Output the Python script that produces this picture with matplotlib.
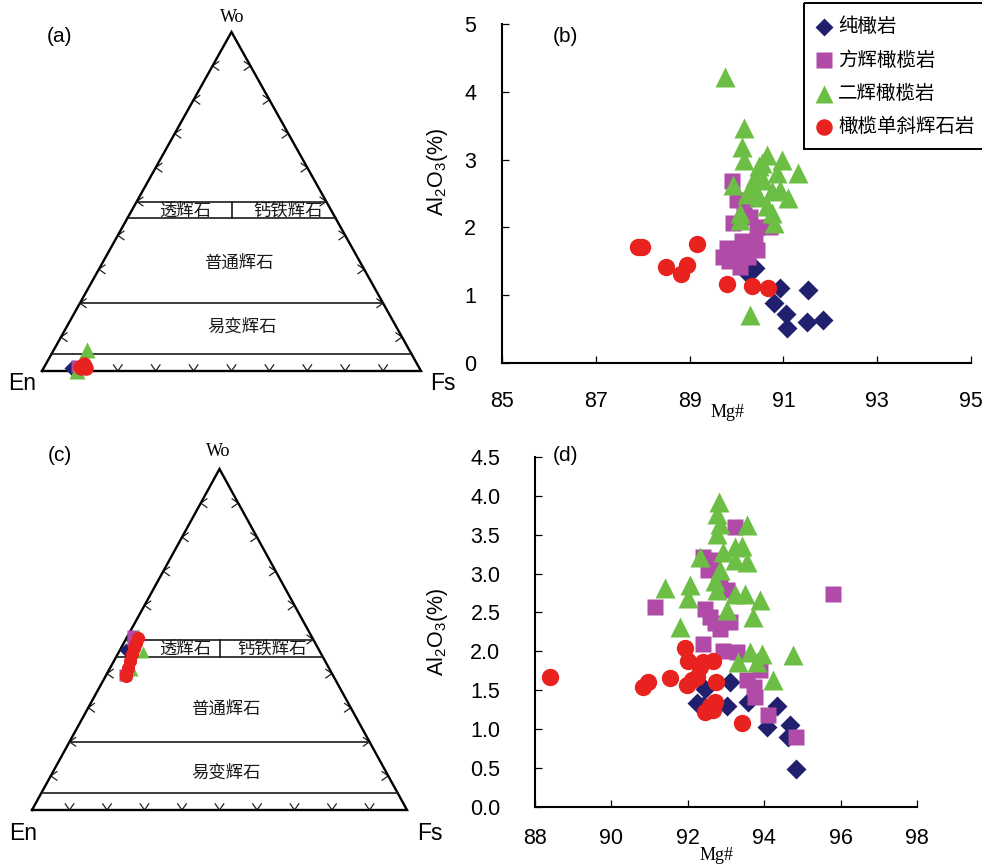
import matplotlib
matplotlib.use('Agg')
import matplotlib.pyplot as plt
from matplotlib.patches import Rectangle
import numpy as np

W, H = 982, 868
plt.rcParams['font.family'] = ['Liberation Sans', 'Noto Sans CJK SC', 'DejaVu Sans']
plt.rcParams['mathtext.fontset'] = 'custom'
plt.rcParams['mathtext.rm'] = 'Liberation Sans'
plt.rcParams['mathtext.it'] = 'Liberation Sans:italic'

# ---------------- data ----------------
series = ['纯橄岩', '方辉橄榄岩', '二辉橄榄岩', '橄榄单斜辉石岩']
colors = ['#20206f', '#b04ca8', '#6cbe45', '#e8221e']
markers = ['D', 's', '^', 'o']
msizes = [10.0, 12.0, 14.0, 12.5]

# panel (b): Mg# vs Al2O3
b_dun_mg = [90.39, 90.25, 90.93, 90.79, 91.06, 91.07, 91.53, 91.50, 91.85]
b_dun_al = [1.40, 1.32, 1.10, 0.88, 0.73, 0.51, 1.08, 0.61, 0.64]
b_harz_mg = [89.90, 90.00, 89.92, 90.29, 90.43, 90.72, 90.39, 89.79, 89.72, 90.00,
             90.25, 90.07, 90.22, 90.43, 90.12, 90.00, 89.85, 90.15]
b_harz_al = [2.68, 2.40, 2.06, 2.16, 2.01, 2.00, 1.79, 1.69, 1.57, 1.52,
             1.57, 1.42, 1.74, 1.67, 1.80, 1.65, 1.50, 2.30]
b_lherz_mg = [89.75, 90.15, 90.11, 90.15, 89.93, 90.47, 90.66, 90.96, 91.32, 90.86,
              90.57, 90.32, 90.22, 90.47, 90.75, 90.93, 91.10, 90.64, 90.79, 90.75,
              90.07, 90.07, 90.29, 90.55, 90.40]
b_lherz_al = [4.22, 3.46, 3.19, 2.99, 2.63, 2.90, 3.07, 2.99, 2.80, 2.80,
              2.70, 2.60, 2.50, 2.45, 2.53, 2.55, 2.43, 2.31, 2.06, 2.21,
              2.11, 2.21, 0.71, 2.95, 2.75]
b_wcpx_mg = [87.89, 87.99, 88.50, 88.81, 88.95, 89.16, 89.79, 90.33, 90.67]
b_wcpx_al = [1.71, 1.71, 1.42, 1.32, 1.44, 1.76, 1.17, 1.14, 1.10]

# panel (d): Mg# vs Al2O3
d_dun_mg = [92.45, 93.10, 92.23, 93.02, 93.58, 94.33, 94.07, 94.68, 94.63, 94.82, 92.41]
d_dun_al = [1.52, 1.61, 1.33, 1.29, 1.35, 1.29, 1.03, 1.05, 0.90, 0.49, 1.29]
d_harz_mg = [91.14, 95.81, 93.24, 92.41, 92.54, 92.67, 92.84, 93.02, 92.45, 92.58,
             92.71, 93.10, 92.84, 92.41, 92.93, 93.28, 93.54, 93.72, 93.76, 93.89,
             94.11, 94.83]
d_harz_al = [2.57, 2.74, 3.60, 3.21, 3.04, 3.17, 2.87, 2.79, 2.55, 2.44,
             2.36, 2.38, 2.29, 2.10, 2.01, 1.99, 1.63, 1.54, 1.41, 1.76,
             1.18, 0.90]
d_lherz_mg = [92.82, 92.76, 92.84, 92.76, 93.54, 92.32, 92.93, 93.24, 93.41, 93.54,
              93.24, 92.84, 92.71, 92.76, 91.40, 92.06, 92.01, 93.24, 93.50, 93.89,
              93.02, 93.71, 91.80, 93.62, 93.93, 93.32, 93.80, 94.76, 94.24]
d_lherz_al = [3.92, 3.77, 3.64, 3.51, 3.62, 3.21, 3.28, 3.34, 3.36, 3.15,
              3.17, 3.04, 2.91, 2.79, 2.81, 2.85, 2.68, 2.74, 2.74, 2.66,
              2.53, 2.44, 2.31, 1.99, 1.97, 1.86, 1.86, 1.95, 1.63]
d_wcpx_mg = [88.40, 90.83, 90.95, 91.53, 91.93, 92.01, 91.97, 92.12, 92.23, 92.32,
             92.39, 92.67, 92.74, 92.71, 92.58, 92.45, 92.67, 93.41]
d_wcpx_al = [1.67, 1.54, 1.61, 1.65, 2.04, 1.88, 1.56, 1.63, 1.67, 1.80,
             1.86, 1.87, 1.61, 1.35, 1.29, 1.22, 1.24, 1.08]

# panel (a): ternary Wo / Fs fractions
a_dun_wo = [0.008, 0.010]
a_dun_fs = [0.074, 0.080]
a_harz_wo = [0.015]
a_harz_fs = [0.085]
a_lherz_wo = [0.062, 0.000, 0.020]
a_lherz_fs = [0.087, 0.092, 0.095]
a_wcpx_wo = [0.013, 0.015, 0.010, 0.020, 0.008]
a_wcpx_fs = [0.095, 0.105, 0.112, 0.100, 0.100]

# panel (c): ternary Wo / Fs fractions
c_dun_wo = [0.469]
c_dun_fs = [0.016]
c_harz_wo = [0.510, 0.500, 0.396]
c_harz_fs = [0.014, 0.020, 0.050]
c_lherz_wo = [0.513, 0.463, 0.410]
c_lherz_fs = [0.026, 0.065, 0.062]
c_wcpx_wo = [0.393, 0.400, 0.416, 0.437, 0.457, 0.475, 0.490, 0.504]
c_wcpx_fs = [0.054, 0.050, 0.048, 0.043, 0.038, 0.034, 0.032, 0.031]

b_x_ticks = [85, 87, 89, 91, 93, 95]
b_y_ticks = [0, 1, 2, 3, 4, 5]
d_x_ticks = [88, 90, 92, 94, 96, 98]
d_y_ticks = [0.0, 0.5, 1.0, 1.5, 2.0, 2.5, 3.0, 3.5, 4.0, 4.5]

field_names = ['透辉石', '钙铁辉石', '普通辉石', '易变辉石']
field_lines_wo = [0.50, 0.45, 0.20, 0.05]
tern_ticks = [0.1, 0.2, 0.3, 0.4, 0.5, 0.6, 0.7, 0.8, 0.9]

# ---------------- figure ----------------
fig = plt.figure(figsize=(W / 100, H / 100), dpi=100)
fig.patch.set_facecolor('white')


def px_rect(x0, y_top, x1, y_bot):
    return [x0 / W, 1 - y_bot / H, (x1 - x0) / W, (y_bot - y_top) / H]


def ftext(x, y, s, **kw):
    kw.setdefault('ha', 'center')
    kw.setdefault('va', 'center')
    fig.text(x / W, 1 - y / H, s, **kw)


def ternary(rect, wo_lists, fs_lists, msz, label_pos):
    ax = fig.add_axes(rect)
    ax.set_xlim(0, 1)
    ax.set_ylim(0, 1)
    ax.axis('off')
    sx = rect[2] * W
    sy = rect[3] * H
    ax.plot([0, 1, 0.5, 0], [0, 0, 1, 0], color='black', lw=1.7,
            solid_joinstyle='miter', clip_on=False, zorder=2)
    for w in field_lines_wo:
        ax.plot([w / 2, 1 - w / 2], [w, w], color='#1a1a1a', lw=1.2, zorder=2)
    ax.plot([0.5, 0.5], [0.45, 0.50], color='#1a1a1a', lw=1.2, zorder=2)
    L = 7.5
    ang = np.deg2rad(35)

    def chevron(px, py, base_angle):
        for s in (-1, 1):
            a = base_angle + s * ang
            ax.plot([px, px + L * np.cos(a) / sx], [py, py + L * np.sin(a) / sy],
                    color='#222222', lw=0.9, zorder=1)
    for t in tern_ticks:
        chevron(t / 2, t, 0.0)
        chevron(1 - t / 2, t, np.pi)
        chevron(t, 0.0, np.pi / 2)
    for i in range(4):
        wo = np.array(wo_lists[i])
        fs = np.array(fs_lists[i])
        ax.plot(fs + wo / 2, wo, linestyle='none', marker=markers[i], ms=msz[i],
                color=colors[i], mec='none', clip_on=False, zorder=3 + i)
    for name, (x, y) in zip(field_names, label_pos):
        ftext(x, y, name, fontsize=12.5, family=['Noto Sans CJK SC'], color='#1a1a1a')
    return ax


ternary(px_rect(42, 32, 421, 371),
        [a_dun_wo, a_harz_wo, a_lherz_wo, a_wcpx_wo],
        [a_dun_fs, a_harz_fs, a_lherz_fs, a_wcpx_fs], [8.0, 9.0, 11.0, 10.5],
        [(185, 211), (288, 211), (239, 263), (242, 327)])
ternary(px_rect(32, 469, 407, 810),
        [c_dun_wo, c_harz_wo, c_lherz_wo, c_wcpx_wo],
        [c_dun_fs, c_harz_fs, c_lherz_fs, c_wcpx_fs], [7.5, 9.0, 9.0, 9.5],
        [(185, 649), (272, 649), (226, 709), (226, 773)])

serif = ['Liberation Serif', 'DejaVu Serif']
ftext(60, 37, '(a)', fontsize=15)
ftext(232, 18, 'Wo', fontsize=13, family=serif)
ftext(22, 383, 'En', fontsize=16.5)
ftext(443, 383, 'Fs', fontsize=16.5)
ftext(60, 456, '(c)', fontsize=15)
ftext(218, 452, 'Wo', fontsize=13, family=serif)
ftext(23, 833, 'En', fontsize=16.5)
ftext(430, 833, 'Fs', fontsize=16.5)


def scatter_panel(rect, xs, ys, xlim, ylim, xt, yt, yfmt, xpad, ypad, msz):
    ax = fig.add_axes(rect)
    ax.patch.set_alpha(0)
    for i in range(4):
        ax.plot(xs[i], ys[i], linestyle='none', marker=markers[i], ms=msz[i],
                color=colors[i], mec='none', clip_on=False, zorder=3 + i)
    ax.set_xlim(*xlim)
    ax.set_ylim(*ylim)
    ax.set_xticks(xt)
    ax.set_yticks(yt)
    ax.set_xticklabels([str(v) for v in xt])
    ax.set_yticklabels([yfmt.format(v) for v in yt])
    for s in ('top', 'right'):
        ax.spines[s].set_visible(False)
    for s in ('left', 'bottom'):
        ax.spines[s].set_linewidth(1.5)
    ax.tick_params(axis='both', direction='in', length=5, width=0.9,
                   labelsize=15.5)
    ax.tick_params(axis='x', pad=xpad)
    ax.tick_params(axis='y', pad=ypad)
    return ax


scatter_panel(px_rect(502, 24, 971, 363),
              [b_dun_mg, b_harz_mg, b_lherz_mg, b_wcpx_mg],
              [b_dun_al, b_harz_al, b_lherz_al, b_wcpx_al],
              (85, 95), (0, 5), b_x_ticks, b_y_ticks, '{:g}', 20, 18.5, msizes)
scatter_panel(px_rect(535, 457, 917, 806.7),
              [d_dun_mg, d_harz_mg, d_lherz_mg, d_wcpx_mg],
              [d_dun_al, d_harz_al, d_lherz_al, d_wcpx_al],
              (88, 98), (0, 4.5), d_x_ticks, d_y_ticks, '{:.1f}', 15, 25, msizes)

ftext(565, 37, '(b)', fontsize=15)
ftext(565, 456, '(d)', fontsize=15)
ftext(728, 412, 'Mg#', fontsize=13, family=serif)
ftext(717, 856, 'Mg#', fontsize=13, family=serif)
ftext(438, 172, r'Al$_2$O$_3$(%)', fontsize=15.5, rotation=90)
ftext(438, 632, r'Al$_2$O$_3$(%)', fontsize=15.5, rotation=90)

# legend
lg = fig.add_axes([0, 0, 1, 1])
lg.set_xlim(0, W)
lg.set_ylim(H, 0)
lg.axis('off')
lg.patch.set_alpha(0)
lg.add_patch(Rectangle((804, 3), 200, 146, fill=False, ec='black', lw=1.4,
                       clip_on=False))
for i, name in enumerate(series):
    yy = 27 + i * 33.3
    lg.plot([824], [yy], linestyle='none', marker=markers[i],
            ms=msizes[i] * 0.95, color=colors[i], mec='none')
    lg.text(838, yy, name, fontsize=14, va='center', ha='left',
            family=['Noto Sans CJK SC'])

fig.savefig('out.png', dpi=100, facecolor='white')
